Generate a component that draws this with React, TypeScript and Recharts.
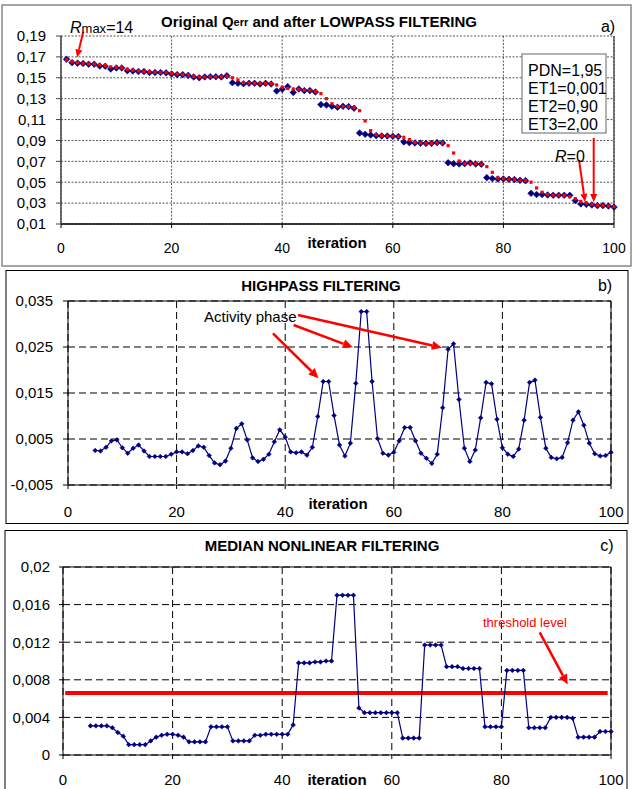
import React from 'react';
import { LineChart, Line, XAxis, YAxis, CartesianGrid, ReferenceLine } from 'recharts';

const FONT = "'Liberation Sans', Arial, Helvetica, sans-serif";
const NAVY = '#000080';
const RED = '#ff0000';

// ---------- DATA ----------
// Panel a: iterations 1..100
const firstIterA = 1;
const qerrOriginal = [
  0.1677, 0.1645, 0.1640, 0.1637, 0.1630, 0.1630, 0.1613, 0.1610, 0.1584, 0.1594,
  0.1594, 0.1568, 0.1565, 0.1560, 0.1560, 0.1550, 0.1550, 0.1550, 0.1547, 0.1536,
  0.1530, 0.1530, 0.1523, 0.1508, 0.1500, 0.1508, 0.1510, 0.1510, 0.1508, 0.1520,
  0.1453, 0.1447, 0.1443, 0.1447, 0.1447, 0.1440, 0.1447, 0.1440, 0.1374, 0.1390,
  0.1415, 0.1360, 0.1393, 0.1377, 0.1377, 0.1364, 0.1243, 0.1240, 0.1227, 0.1218,
  0.1227, 0.1224, 0.1208, 0.0971, 0.0959, 0.0952, 0.0946, 0.0943, 0.0943, 0.0940,
  0.0937, 0.0886, 0.0879, 0.0876, 0.0874, 0.0872, 0.0872, 0.0879, 0.0876, 0.0687,
  0.0678, 0.0675, 0.0678, 0.0684, 0.0675, 0.0672, 0.0544, 0.0535, 0.0531, 0.0531,
  0.0528, 0.0525, 0.0518, 0.0515, 0.0394, 0.0382, 0.0382, 0.0378, 0.0375, 0.0375,
  0.0375, 0.0375, 0.0324, 0.0292, 0.0288, 0.0282, 0.0276, 0.0276, 0.0272, 0.0262,
];
const qerrLowpass = [
  0.1672, 0.1652, 0.1643, 0.1640, 0.1633, 0.1632, 0.1622, 0.1618, 0.1604, 0.1600,
  0.1595, 0.1582, 0.1572, 0.1565, 0.1562, 0.1556, 0.1553, 0.1552, 0.1549, 0.1543,
  0.1536, 0.1533, 0.1527, 0.1515, 0.1507, 0.1507, 0.1509, 0.1510, 0.1509, 0.1516,
  0.1500, 0.1479, 0.1455, 0.1450, 0.1448, 0.1446, 0.1447, 0.1443, 0.1431, 0.1410,
  0.1398, 0.1393, 0.1390, 0.1382, 0.1377, 0.1370, 0.1348, 0.1300, 0.1252, 0.1226,
  0.1226, 0.1224, 0.1218, 0.1185, 0.1087, 0.0994, 0.0955, 0.0946, 0.0943, 0.0941,
  0.0938, 0.0930, 0.0908, 0.0880, 0.0876, 0.0873, 0.0873, 0.0876, 0.0876, 0.0850,
  0.0780, 0.0703, 0.0676, 0.0680, 0.0677, 0.0673, 0.0649, 0.0595, 0.0540, 0.0532,
  0.0529, 0.0526, 0.0520, 0.0516, 0.0500, 0.0445, 0.0404, 0.0382, 0.0377, 0.0376,
  0.0375, 0.0362, 0.0342, 0.0317, 0.0301, 0.0288, 0.0280, 0.0277, 0.0273, 0.0266,
];

// Panel b & c: iterations 5..100
const firstIterBC = 5;
const highpass = [
  0.0025, 0.0024, 0.0032, 0.0046, 0.0048, 0.0031, 0.0019, 0.0030, 0.0037, 0.0024,
  0.0012, 0.0012, 0.0012, 0.0012, 0.0017, 0.0022, 0.0022, 0.0018, 0.0025, 0.0035,
  0.0032, 0.0014, -0.0002, -0.0006, 0.0002, 0.0030, 0.0073, 0.0083, 0.0048, 0.0009,
  0.0001, 0.0006, 0.0017, 0.0044, 0.0070, 0.0054, 0.0022, 0.0020, 0.0022, 0.0015,
  0.0032, 0.0099, 0.0175, 0.0175, 0.0101, 0.0037, 0.0013, 0.0041, 0.0171, 0.0327,
  0.0327, 0.0175, 0.0051, 0.0019, 0.0015, 0.0021, 0.0046, 0.0075, 0.0075, 0.0046,
  0.0019, 0.0008, -0.0003, 0.0017, 0.0118, 0.0245, 0.0257, 0.0136, 0.0030, 0.0001,
  0.0026, 0.0096, 0.0173, 0.0170, 0.0093, 0.0031, 0.0017, 0.0012, 0.0028, 0.0091,
  0.0173, 0.0178, 0.0097, 0.0030, 0.0010, 0.0007, 0.0010, 0.0042, 0.0091, 0.0109,
  0.0080, 0.0041, 0.0018, 0.0013, 0.0014, 0.0021,
];
const median = [
  0.0031, 0.0031, 0.0031, 0.0031, 0.0029, 0.0024, 0.0020, 0.0011, 0.0011, 0.0011,
  0.0011, 0.0015, 0.0019, 0.0021, 0.0022, 0.0022, 0.0021, 0.0019, 0.0014, 0.0014,
  0.0014, 0.0014, 0.0030, 0.0030, 0.0030, 0.0030, 0.0015, 0.0015, 0.0015, 0.0015,
  0.0021, 0.0021, 0.0022, 0.0022, 0.0022, 0.0022, 0.0022, 0.0032, 0.0098, 0.0098,
  0.0098, 0.0099, 0.0099, 0.0100, 0.0100, 0.0170, 0.0170, 0.0170, 0.0170, 0.0050,
  0.0045, 0.0045, 0.0045, 0.0045, 0.0045, 0.0045, 0.0045, 0.0018, 0.0018, 0.0018,
  0.0018, 0.0117, 0.0117, 0.0117, 0.0117, 0.0094, 0.0094, 0.0094, 0.0092, 0.0092,
  0.0092, 0.0092, 0.0030, 0.0030, 0.0030, 0.0030, 0.0090, 0.0090, 0.0090, 0.0090,
  0.0029, 0.0029, 0.0029, 0.0029, 0.0040, 0.0040, 0.0040, 0.0040, 0.0039, 0.0019,
  0.0019, 0.0019, 0.0019, 0.0025, 0.0025, 0.0025,
];
const thresholdLevel = 0.0066;

const xTicks = [0, 20, 40, 60, 80, 100];
const yTicksA = [0.01, 0.03, 0.05, 0.07, 0.09, 0.11, 0.13, 0.15, 0.17, 0.19];
const yTicksB = [-0.005, 0.005, 0.015, 0.025, 0.035];
const yTicksC = [0, 0.004, 0.008, 0.012, 0.016, 0.02];

// annotation arrows, in data units
const arrowsA = [
  { from: { x: 4.03, y: 0.1941 }, to: { x: 2.9, y: 0.1695 } },
  { from: { x: 93.67, y: 0.0713 }, to: { x: 94.76, y: 0.0311 } },
  { from: { x: 96.33, y: 0.0924 }, to: { x: 96.33, y: 0.0311 } },
];
const arrowsB = [
  { from: { x: 42.36, y: 0.03196 }, to: { x: 68.88, y: 0.02485 } },
  { from: { x: 41.55, y: 0.02978 }, to: { x: 52.48, y: 0.02493 } },
  { from: { x: 37.75, y: 0.02798 }, to: { x: 46.15, y: 0.0182 } },
];
const arrowsC = [{ from: { x: 86.99, y: 0.01304 }, to: { x: 92.1, y: 0.0075 } }];

// ---------- TABLES ----------
const tableA = qerrOriginal.map((v, i) => ({ x: i + firstIterA, orig: v, low: qerrLowpass[i] }));
const tableB = highpass.map((v, i) => ({ x: i + firstIterBC, y: v }));
const tableC = median.map((v, i) => ({ x: i + firstIterBC, y: v }));

const fmtComma = (d: number) => (v: number) => v.toFixed(d).replace('.', ',');
const fmtC = (v: number) => String(Number(v.toFixed(3))).replace('.', ',');

const diamond = (h: number, color: string) => (p: any) => {
  const { cx, cy, index } = p;
  if (cx == null || cy == null) return <g key={`e${index}`} />;
  return (
    <path
      key={`d${index}`}
      d={`M${cx},${cy - h}L${cx + h},${cy}L${cx},${cy + h}L${cx - h},${cy}Z`}
      fill={color}
      stroke={color}
      strokeWidth={0.6}
    />
  );
};
const square = (h: number, color: string) => (p: any) => {
  const { cx, cy, index } = p;
  if (cx == null || cy == null) return <g key={`e${index}`} />;
  return <rect key={`s${index}`} x={cx - h} y={cy - h} width={2 * h} height={2 * h} fill={color} />;
};

const arrowShape = (color: string, w: number, L: number, W: number) => (p: any) => {
  const { x1, y1, x2, y2 } = p;
  if ([x1, y1, x2, y2].some((v) => v == null || isNaN(v))) return <g />;
  const a = Math.atan2(y2 - y1, x2 - x1);
  const c = Math.cos(a);
  const s = Math.sin(a);
  const bx = x2 - L * c;
  const by = y2 - L * s;
  const pts = `${x2},${y2} ${bx + W * s},${by - W * c} ${bx - W * s},${by + W * c}`;
  return (
    <g>
      <line x1={x1} y1={y1} x2={bx} y2={by} stroke={color} strokeWidth={w} />
      <polygon points={pts} fill={color} />
    </g>
  );
};

const tickStyle = (size: number) => ({ fontSize: size, fill: '#000', fontFamily: FONT });

function PanelA() {
  return (
    <div style={{ position: 'absolute', left: 0, top: 0 }}>
      <LineChart width={632} height={266} data={tableA} margin={{ top: 36, right: 18, bottom: 0, left: 0 }}>
        <CartesianGrid stroke="#555" strokeDasharray="2 1.5" />
        <XAxis
          dataKey="x"
          type="number"
          domain={[0, 100]}
          ticks={xTicks}
          height={42}
          tick={tickStyle(14)}
          tickSize={4}
          tickMargin={15}
          axisLine={{ stroke: '#000', strokeWidth: 1.5 }}
          tickLine={{ stroke: '#000' }}
        />
        <YAxis
          type="number"
          domain={[0.01, 0.19]}
          ticks={yTicksA}
          width={61}
          tick={tickStyle(15)}
          tickFormatter={fmtComma(2)}
          tickSize={5}
          tickMargin={10}
          axisLine={{ stroke: '#444', strokeWidth: 1.5 }}
          tickLine={{ stroke: '#444' }}
          interval={0}
        />
        <ReferenceLine x={100} stroke="#333" strokeWidth={1.2} ifOverflow="visible" />
        <Line
          dataKey="orig"
          stroke="none"
          isAnimationActive={false}
          dot={diamond(3.3, NAVY)}
          activeDot={false}
        />
        <Line
          dataKey="low"
          stroke="none"
          isAnimationActive={false}
          dot={square(1.6, RED)}
          activeDot={false}
        />
        {arrowsA.map((a, i) => (
          <ReferenceLine
            key={`aa${i}`}
            segment={[a.from, a.to]}
            ifOverflow="visible"
            shape={arrowShape(RED, 2, 8, 3.5)}
          />
        ))}
      </LineChart>
    </div>
  );
}

function PanelB() {
  return (
    <div style={{ position: 'absolute', left: 0, top: 266 }}>
      <LineChart width={632} height={266} data={tableB} margin={{ top: 35, right: 21, bottom: 0, left: 0 }}>
        <CartesianGrid stroke="#000" strokeDasharray="7 4" />
        <XAxis
          dataKey="x"
          type="number"
          domain={[0, 100]}
          ticks={xTicks}
          height={47}
          tick={tickStyle(15)}
          tickSize={4}
          tickMargin={17}
          axisLine={{ stroke: '#000' }}
          tickLine={{ stroke: '#000' }}
        />
        <YAxis
          type="number"
          domain={[-0.005, 0.035]}
          ticks={yTicksB}
          width={68}
          tick={tickStyle(15)}
          tickFormatter={fmtComma(3)}
          tickSize={5}
          tickMargin={10}
          axisLine={{ stroke: '#000' }}
          tickLine={{ stroke: '#000' }}
          interval={0}
        />
        <ReferenceLine x={100} stroke="#000" ifOverflow="visible" />
        <ReferenceLine y={0.035} stroke="#000" ifOverflow="visible" />
        <Line
          dataKey="y"
          stroke={NAVY}
          strokeWidth={1.2}
          isAnimationActive={false}
          dot={diamond(2.3, NAVY)}
          activeDot={false}
        />
        {arrowsB.map((a, i) => (
          <ReferenceLine
            key={`ab${i}`}
            segment={[a.from, a.to]}
            ifOverflow="visible"
            shape={arrowShape(RED, 2.5, 10, 4.5)}
          />
        ))}
      </LineChart>
    </div>
  );
}

function PanelC() {
  return (
    <div style={{ position: 'absolute', left: 0, top: 530 }}>
      <LineChart width={632} height={259} data={tableC} margin={{ top: 37, right: 21, bottom: 0, left: 0 }}>
        <CartesianGrid stroke="#000" strokeDasharray="7 4" />
        <XAxis
          dataKey="x"
          type="number"
          domain={[0, 100]}
          ticks={xTicks}
          height={34}
          tick={tickStyle(15)}
          tickSize={4}
          tickMargin={15}
          axisLine={{ stroke: '#000' }}
          tickLine={{ stroke: '#000' }}
        />
        <YAxis
          type="number"
          domain={[0, 0.02]}
          ticks={yTicksC}
          width={63}
          tick={tickStyle(15)}
          tickFormatter={fmtC}
          tickSize={4}
          tickMargin={9}
          axisLine={{ stroke: '#000' }}
          tickLine={{ stroke: '#000' }}
          interval={0}
        />
        <ReferenceLine x={100} stroke="#000" ifOverflow="visible" />
        <ReferenceLine y={0.02} stroke="#000" ifOverflow="visible" />
        <ReferenceLine
          segment={[
            { x: 0.4, y: thresholdLevel },
            { x: 99.4, y: thresholdLevel },
          ]}
          stroke={RED}
          strokeWidth={4}
          ifOverflow="visible"
        />
        <Line
          dataKey="y"
          stroke={NAVY}
          strokeWidth={1.2}
          isAnimationActive={false}
          dot={diamond(2.3, NAVY)}
          activeDot={false}
        />
        {arrowsC.map((a, i) => (
          <ReferenceLine
            key={`ac${i}`}
            segment={[a.from, a.to]}
            ifOverflow="visible"
            shape={arrowShape(RED, 2.5, 10, 4.5)}
          />
        ))}
      </LineChart>
    </div>
  );
}

function Overlay() {
  const t = { fontFamily: FONT, fill: '#000' } as const;
  return (
    <svg
      width={632}
      height={789}
      style={{ position: 'absolute', left: 0, top: 0, pointerEvents: 'none' }}
    >
      {/* panel frames */}
      <rect x={2} y={5} width={629} height={261} fill="none" stroke="#888" strokeWidth={1.5} />
      <rect x={6} y={270.5} width={622} height={253} fill="none" stroke="#000" strokeWidth={1} />
      <rect x={5} y={530.5} width={622} height={270} fill="none" stroke="#000" strokeWidth={1} />

      {/* panel a */}
      <text x={319} y={21} textAnchor="middle" dominantBaseline="central" fontWeight="bold" fontSize={15} {...t}>
        Original Q<tspan fontSize={11} dy={1}>err</tspan>
        <tspan dy={-1}> and after LOWPASS FILTERING</tspan>
      </text>
      <text x={608} y={26} textAnchor="middle" dominantBaseline="central" fontSize={16} {...t}>
        a)
      </text>
      <text x={70} y={33} fontSize={16} {...t}>
        <tspan fontStyle="italic">R</tspan>
        <tspan fontSize={13}>max</tspan>
        <tspan>=14</tspan>
      </text>
      <rect x={522} y={54} width={84} height={79} fill="#fff" stroke="#666" strokeWidth={1} />
      <text x={528} y={76} fontSize={16} {...t}>PDN=1,95</text>
      <text x={528} y={94} fontSize={16} {...t}>ET1=0,001</text>
      <text x={528} y={112} fontSize={16} {...t}>ET2=0,90</text>
      <text x={528} y={130} fontSize={16} {...t}>ET3=2,00</text>
      <text x={555} y={162} fontSize={16} {...t}>
        <tspan fontStyle="italic">R</tspan>
        <tspan>=0</tspan>
      </text>
      <text x={337} y={242} textAnchor="middle" dominantBaseline="central" fontWeight="bold" fontSize={15} {...t}>
        iteration
      </text>

      {/* panel b */}
      <text x={321} y={285} textAnchor="middle" dominantBaseline="central" fontWeight="bold" fontSize={15} {...t}>
        HIGHPASS FILTERING
      </text>
      <text x={605} y={285} textAnchor="middle" dominantBaseline="central" fontSize={16} {...t}>
        b)
      </text>
      <text x={204} y={316} dominantBaseline="central" fontSize={15} {...t}>
        Activity phase
      </text>
      <text x={338} y={503} textAnchor="middle" dominantBaseline="central" fontWeight="bold" fontSize={15} {...t}>
        iteration
      </text>

      {/* panel c */}
      <text x={322} y={545} textAnchor="middle" dominantBaseline="central" fontWeight="bold" fontSize={15} {...t}>
        MEDIAN NONLINEAR FILTERING
      </text>
      <text x={607} y={545} textAnchor="middle" dominantBaseline="central" fontSize={16} {...t}>
        c)
      </text>
      <text x={483} y={622} dominantBaseline="central" fontSize={13} fontFamily={FONT} fill={RED}>
        threshold level
      </text>
      <text x={337} y={779} textAnchor="middle" dominantBaseline="central" fontWeight="bold" fontSize={15} {...t}>
        iteration
      </text>
    </svg>
  );
}

export default function App() {
  return (
    <div
      style={{
        position: 'absolute',
        left: 0,
        top: 0,
        width: 632,
        height: 789,
        overflow: 'hidden',
        background: '#fff',
        fontFamily: FONT,
      }}
    >
      <PanelA />
      <PanelB />
      <PanelC />
      <Overlay />
    </div>
  );
}
